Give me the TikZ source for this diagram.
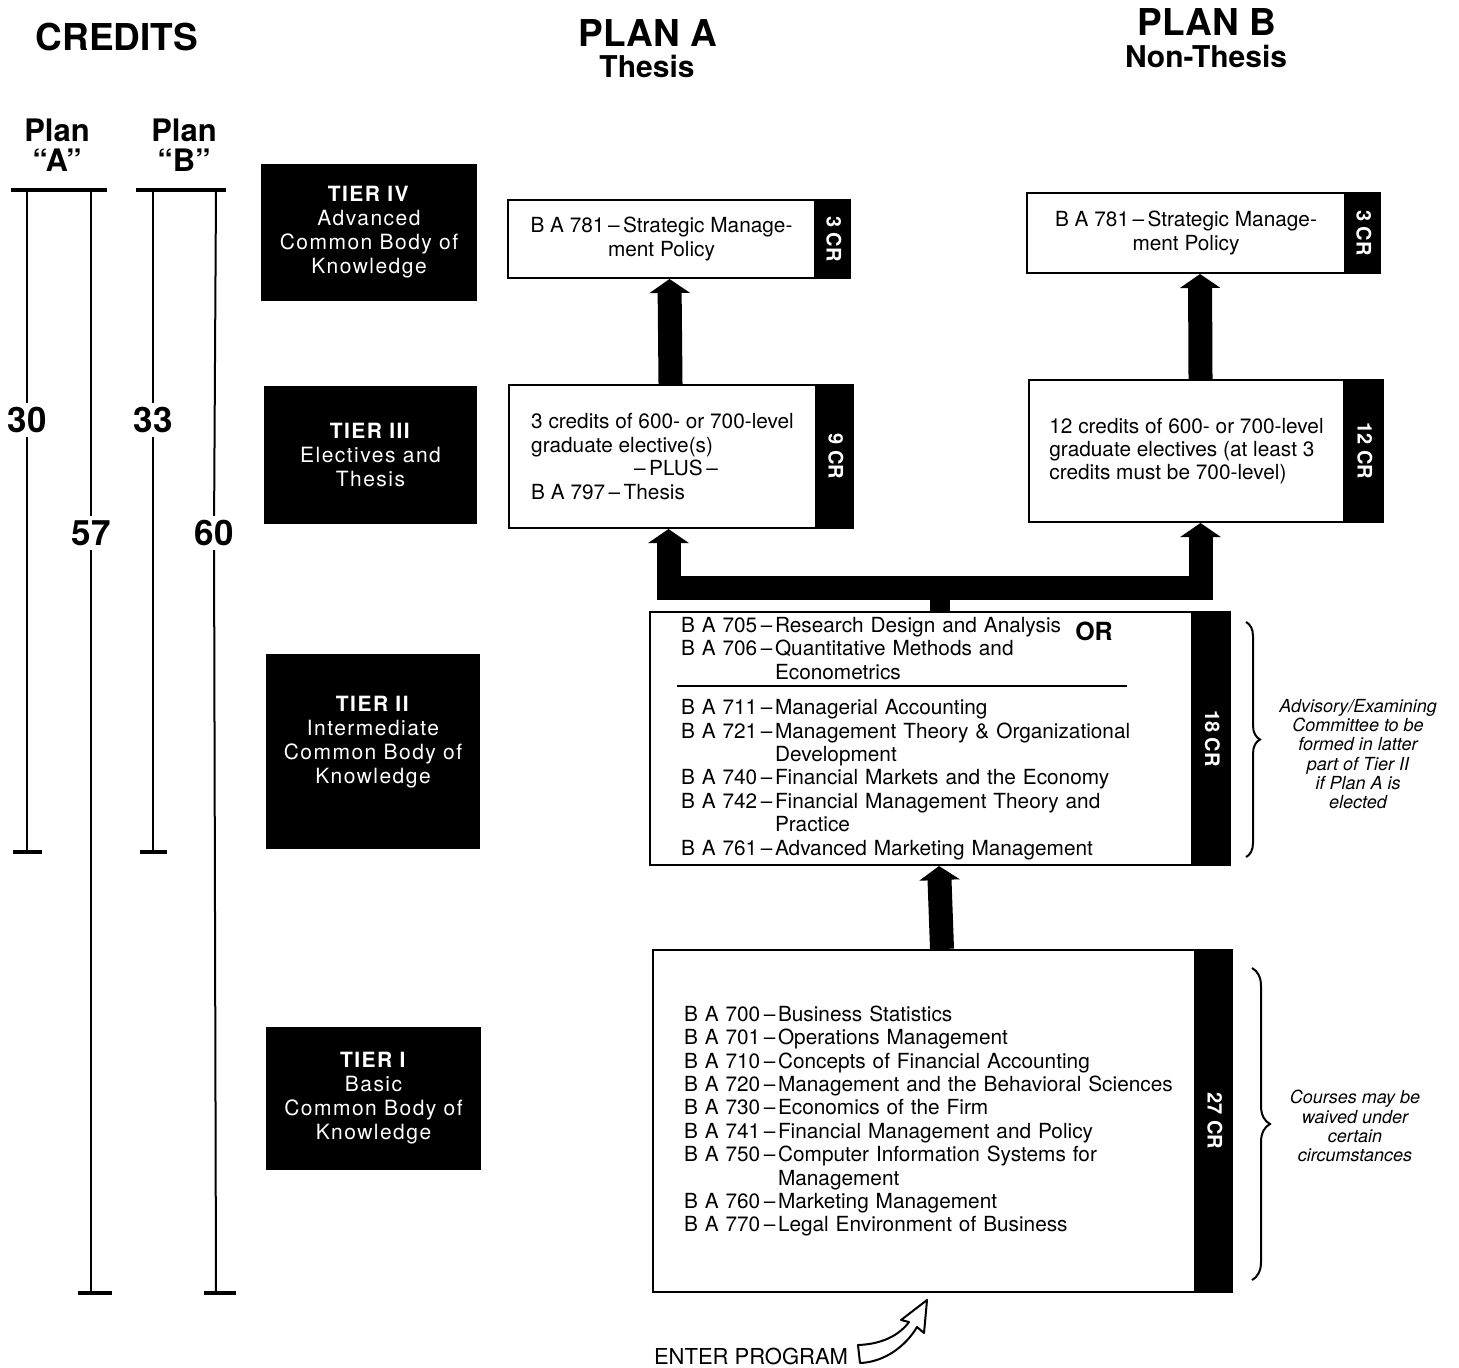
\documentclass[tikz,border=0pt]{standalone}
\usepackage{fontspec}
\usepackage{graphicx}
\setmainfont{TeX Gyre Heros}
\newfontfamily\tierfont[LetterSpace=7]{TeX Gyre Heros}
\usetikzlibrary{arrows.meta, positioning, decorations.pathreplacing}

\newcommand{\ba}[2]{\mbox{\makebox[47pt][l]{B A #1\,--}#2}}
\newcommand{\bamore}[1]{\mbox{\hspace*{47pt}#1}}

\begin{document}
\begin{tikzpicture}[
  x=0.5pt, y=-0.5pt,
  headline/.style={font=\bfseries\fontsize{18.5}{20}\selectfont},
  subhead/.style={font=\bfseries\fontsize{15}{16}\selectfont},
  planlbl/.style={align=center, font=\bfseries\fontsize{15.5}{15}\selectfont},
  credit/.style={font=\bfseries\fontsize{17.5}{18}\selectfont, inner sep=2pt},
  scaleline/.style={line width=1pt},
  tickline/.style={line width=1.6pt},
  tier/.style={fill=black, text=white, align=center, inner sep=0pt, font=\tierfont\fontsize{10.5}{12}\selectfont},
  course/.style={draw, line width=1pt, inner sep=0pt, font=\fontsize{10.4}{11.7}\selectfont},
  strip/.style={fill=black, text=white, inner sep=0pt, font=\bfseries\fontsize{10}{12}\selectfont},
  note/.style={align=center, font=\itshape\fontsize{9}{9.6}\selectfont},
  bigarrow/.style={line width=12pt, -{Triangle[width=20pt, length=7pt]}},
  bigline/.style={line width=10pt},
  curly/.style={decorate, decoration={brace, amplitude=#1}, line width=1pt}
]
\useasboundingbox (0,0) rectangle (1459,1367);

% Headings
\node[headline] (credits) at (117,37) {CREDITS};
\node[headline] (planA) at (648,33) {PLAN A};
\node[subhead] (thesis) at (647,66) {Thesis};
\node[headline] (planB) at (1207,22) {PLAN B};
\node[subhead] (nonthesis) at (1206,56) {Non-Thesis};
\node[planlbl] (lblA) at (57,145) {Plan\\“A”};
\node[planlbl] (lblB) at (184,145) {Plan\\“B”};

% Credit scales
\node[credit] (a30) at (27,420) {30};
\node[credit] (a57) at (91,533) {57};
\node[credit] (b33) at (153,420) {33};
\node[credit] (b60) at (214,533) {60};
\draw[tickline] (11,190) -- (107,190);
\draw[tickline] (136,190) -- (226,190);
\draw[scaleline] (27,190) -- (a30) -- (27,852);
\draw[scaleline] (91,190) -- (a57) -- (91,1293);
\draw[scaleline] (153,190) -- (b33) -- (153,852);
\draw[scaleline] (216,190) -- (b60) -- (216,1293);
\draw[tickline] (13,852) -- (42,852);
\draw[tickline] (78,1293) -- (112,1293);
\draw[tickline] (140,852) -- (167,852);
\draw[tickline] (204,1293) -- (236,1293);

% Tier labels
\node[tier, minimum width=108pt, minimum height=68.5pt] (tier4) at (369,232.5) {\textbf{TIER IV}\\Advanced\\Common Body of\\Knowledge};
\node[tier, minimum width=106.5pt, minimum height=69pt] (tier3) at (370.5,455) {\textbf{TIER III}\\Electives and\\Thesis};
\node[tier, minimum width=107pt, minimum height=97.5pt] (tier2) at (373,751.5) {\textbf{TIER II}\\Intermediate\\Common Body of\\Knowledge\\[0pt]\mbox{}};
\node[tier, minimum width=107.5pt, minimum height=71.5pt] (tier1) at (373.5,1098.5) {\textbf{TIER I}\\Basic\\Common Body of\\Knowledge};

% Course boxes
\node[course, minimum width=153.5pt, minimum height=39pt, align=center] (aPolicy) at (661.5,239) {B A 781\,--\,Strategic Manage-\\ment Policy};
\node[strip, minimum width=17.5pt, minimum height=40pt, right=0pt of aPolicy] (aPolicyCr) {\rotatebox{-90}{3 CR}};

\node[course, minimum width=159pt, minimum height=40pt, align=center] (bPolicy) at (1186,233) {B A 781\,--\,Strategic Manage-\\ment Policy};
\node[strip, minimum width=17.5pt, minimum height=41pt, right=0pt of bPolicy] (bPolicyCr) {\rotatebox{-90}{3 CR}};

\node[course, minimum width=153.5pt, minimum height=71.5pt, align=left] (aElect) at (662.5,456.5) {3 credits of 600- or 700-level\\graduate elective(s)\\\hspace*{51.5pt}--\,PLUS\,--\\B A 797\,--\,Thesis};
\node[strip, minimum width=18.5pt, minimum height=72.5pt, right=0pt of aElect] (aElectCr) {\rotatebox{-90}{9 CR}};

\node[course, minimum width=157.5pt, minimum height=71pt, align=left] (bElect) at (1186.5,451) {12 credits of 600- or 700-level\\graduate electives (at least 3\\credits must be 700-level)};
\node[strip, minimum width=19.5pt, minimum height=72pt, right=0pt of bElect] (bElectCr) {\rotatebox{-90}{12 CR}};

\node[course, minimum width=271pt, minimum height=126.5pt, inner xsep=15.5pt, text width=240pt, align=left] (inter) at (921,738.5) {%
\ba{705}{Research Design and Analysis}\\
\ba{706}{Quantitative Methods and}\\
\bamore{Econometrics}\\[6pt]
\ba{711}{Managerial Accounting}\\
\ba{721}{Management Theory \& Organizational}\\
\bamore{Development}\\
\ba{740}{Financial Markets and the Economy}\\
\ba{742}{Financial Management Theory and}\\
\bamore{Practice}\\
\ba{761}{Advanced Marketing Management}};
\node[strip, minimum width=19pt, minimum height=127.5pt, right=0pt of inter] (interCr) {\rotatebox{-90}{18 CR}};
\node[font=\bfseries\fontsize{12.5}{14}\selectfont] (orword) at (1094,631) {OR};
\draw[line width=0.8pt] (677,686) -- (1127,686);

\node[course, minimum width=271pt, minimum height=171pt, inner xsep=15.5pt, text width=240pt, align=left] (basic) at (924,1121) {%
\ba{700}{Business Statistics}\\
\ba{701}{Operations Management}\\
\ba{710}{Concepts of Financial Accounting}\\
\ba{720}{Management and the Behavioral Sciences}\\
\ba{730}{Economics of the Firm}\\
\ba{741}{Financial Management and Policy}\\
\ba{750}{Computer Information Systems for}\\
\bamore{Management}\\
\ba{760}{Marketing Management}\\
\ba{770}{Legal Environment of Business}};
\node[strip, minimum width=18.5pt, minimum height=172pt, right=0pt of basic] (basicCr) {\rotatebox{-90}{27 CR}};

% Notes
\draw[curly=7pt] (1246,622) -- (1246,857);
\node[note] (committee) at (1358,754) {Advisory/Examining\\Committee to be\\formed in latter\\part of Tier II\\if Plan A is\\elected};
\draw[curly=9pt] (1252,968) -- (1252,1280);
\node[note] (waived) at (1355,1126) {Courses may be\\waived under\\certain\\circumstances};

% Arrows
\draw[bigarrow] ([xshift=4pt]aElect.north) -- ([xshift=4pt]aPolicy.south);
\draw[bigarrow] ([xshift=7pt]bElect.north) -- ([xshift=7pt]bPolicy.south);
\coordinate (fork) at (940,588);
\draw[bigline] (fork |- inter.north) -- (fork);
\draw[bigarrow] (fork) -| ([xshift=3pt]aElect.south);
\draw[bigarrow] (fork) -| ([xshift=7pt]bElect.south);
\draw[bigarrow] ([xshift=9pt]basic.north) -- ([xshift=9pt]inter.south);

% Entry
\node[font=\fontsize{11}{13}\selectfont] (enter) at (751,1356) {ENTER PROGRAM};
\draw[line width=1pt, fill=white, line join=round] (858,1345) .. controls (884,1344) and (900,1334) .. (909,1322) -- (901,1320) -- (927,1300) -- (924,1333) -- (917,1327) .. controls (905,1347) and (884,1362) .. (860,1363) -- cycle;

\end{tikzpicture}
\end{document}
